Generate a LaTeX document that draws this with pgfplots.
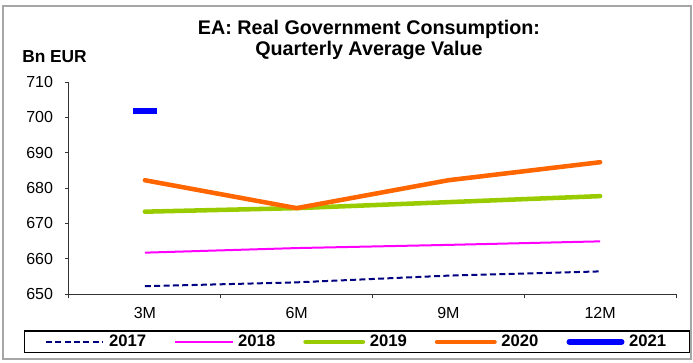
\documentclass[border=0pt]{standalone}
\usepackage{fontspec}
\setmainfont{Liberation Sans}
\usepackage{pgfplots}
\pgfplotsset{compat=1.18}
\definecolor{c2017}{HTML}{000080}
\definecolor{c2018}{HTML}{FF00FF}
\definecolor{c2019}{HTML}{99CC00}
\definecolor{c2020}{HTML}{FF6600}
\definecolor{c2021}{HTML}{0000FF}

\begin{document}
\begin{tikzpicture}[x=1pt,y=1pt]
\useasboundingbox (-51.75,-51) rectangle (468,220.5);
\draw[black!35, line width=1.2pt] (-49.5,-48.75) rectangle (466.5,216);
\node[font=\bfseries\fontsize{14.8}{15.75}\selectfont, align=center] at (225,190.9)
  {EA: Real Government Consumption:\\Quarterly Average Value};
\node[anchor=west, inner sep=0pt, font=\bfseries\fontsize{13}{15}\selectfont] at (-35.25,177.75) {Bn EUR};
\begin{axis}[
  at={(0,0)}, anchor=south west,
  scale only axis,
  width=455.25pt, height=159pt,
  xmin=0.5, xmax=4.5,
  ymin=650, ymax=710,
  ytick={650,660,...,710},
  xtick={1,2,3,4},
  xticklabels={3M,6M,9M,12M},
  minor xtick={0.5,1.5,2.5,3.5,4.5},
  axis lines*=left,
  axis line style={black!80, line width=0.75pt},
  tick align=outside,
  major tick length=3pt,
  minor tick length=3pt,
  major x tick style={draw=none},
  every tick/.style={black!80, line width=0.75pt},
  ticklabel style={font=\fontsize{12}{14}\selectfont},
  /pgf/number format/assume math mode=true,
  yticklabel style={xshift=-5.5pt},
  xticklabel style={yshift=-3.5pt},
  legend style={at={(0.4745,-0.226)}, anchor=center, draw=black, line width=0.9pt,
    font=\bfseries\fontsize{12.5}{14}\selectfont, inner xsep=15.5pt, inner ysep=1pt,
    /tikz/every odd column/.append style={column sep=1.5pt},
    /tikz/every even column/.append style={column sep=19pt}},
  legend columns=-1,
  legend image code/.code={\draw[#1] (0pt,0pt) -- (43pt,0pt);},
]
\addplot[c2017, line width=1.5pt, dash pattern=on 4.5pt off 2.5pt] coordinates {(1,652.2) (2,653.3) (3,655.2) (4,656.4)};
\addplot[c2018, line width=1.5pt] coordinates {(1,661.7) (2,663.0) (3,663.9) (4,664.9)};
\addplot[c2019, line width=3.4pt, line cap=round] coordinates {(1,673.3) (2,674.3) (3,676.0) (4,677.7)};
\addplot[c2020, line width=3.4pt, line cap=round] coordinates {(1,682.2) (2,674.3) (3,682.2) (4,687.3)};
\addplot[c2021, line width=4.5pt, mark=-, mark size=9pt,
  legend image code/.code={\draw[c2021, line width=4.5pt, line cap=round] (2pt,0pt) -- (41pt,0pt);}]
  coordinates {(1,701.8)};
\legend{2017,2018,2019,2020,2021}
\end{axis}
\end{tikzpicture}
\end{document}
